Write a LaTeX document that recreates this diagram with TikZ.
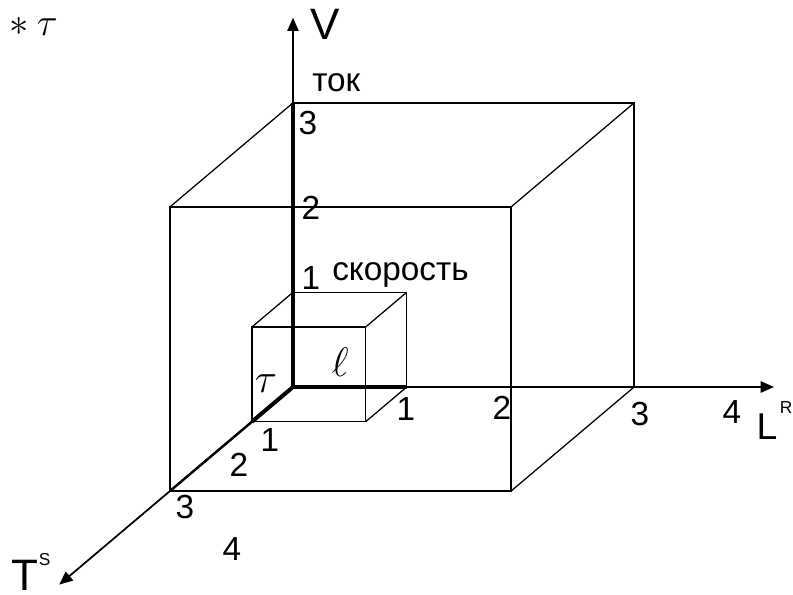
\RequirePackage{fix-cm}
\documentclass[tikz,border=0pt]{standalone}
\usepackage{fontspec}
\setmainfont{Liberation Sans}
\usetikzlibrary{arrows.meta, positioning}

\begin{document}
\begin{tikzpicture}[
    x={(85.28pt,0pt)}, y={(0pt,71.03pt)}, z={(-30.75pt,-26pt)},
    edge/.style={line width=0.95pt},
    ax/.style={-{Triangle[length=10pt,width=8.5pt]}, line width=1.3pt},
    num/.style={inner sep=0pt, font=\fontsize{25}{30}\selectfont},
    axname/.style={inner sep=0pt, font=\fontsize{33}{40}\selectfont},
    supl/.style={inner sep=0pt, font=\fontsize{13}{15}\selectfont},
    mathl/.style={inner sep=0pt, font=\fontsize{31}{36}\selectfont}
]
\useasboundingbox (-219.75pt,-155.25pt) rectangle (375pt,290.25pt);
% axes end points
\coordinate (O) at (0,0,0);
\coordinate (Vend) at (0,3.9,0);
\coordinate (Lend) at (4.23,0,0);
\coordinate (Tend) at (0,0,5.7);
\coordinate (V3) at (0,3,0);
\coordinate (L1) at (1,0,0);
\coordinate (L3) at (3,0,0);
\coordinate (T1) at (0,0,1);
\coordinate (T3) at (0,0,3);
% cubes
\foreach \s in {1,3} {
  \draw[edge] (0,0,0) -- (\s,0,0) -- (\s,\s,0) -- (0,\s,0) -- cycle;
  \draw[edge] (0,0,\s) -- (\s,0,\s) -- (\s,\s,\s) -- (0,\s,\s) -- cycle;
  \foreach \a/\b in {0/0,\s/0,\s/\s,0/\s}
    \draw[edge] (\a,\b,0) -- (\a,\b,\s);
}
% axes
\draw[ax] (O) -- (Vend);
\draw[ax] (O) -- (Lend);
\draw[ax] (O) -- (Tend);
\draw[line width=3pt] (O) -- (V3);
\draw[line width=2pt] (O) -- (L3);
\draw[line width=3.5pt] (O) -- (L1);
\draw[line width=1.8pt] (O) -- (T3);
\draw[line width=3pt] (O) -- (T1);
% axis names
\node[axname] (Vlab) at (24pt,272.25pt) {V};
\node[axname, font=\fontsize{28}{34}\selectfont] (Llab) at (355.5pt,-30pt) {L};
\node[supl, anchor=south west, xshift=1.5pt] (Rsup) at (Llab.north east) {R};
\node[axname] (Tlab) at (-201pt,-141pt) {T};
\node[supl, anchor=west] (Ssup) at (Tlab.north east) {S};
% V ticks
\node[num] (v3) at (11.25pt,198pt) {3};
\node[num] (v2) at (13.5pt,134.25pt) {2};
\node[num] (v1) at (13.5pt,81.75pt) {1};
% L ticks
\node[num] (l1) at (84.75pt,-16.5pt) {1};
\node[num] (l2) at (156.75pt,-15.75pt) {2};
\node[num] (l3) at (260.25pt,-20.25pt) {3};
\node[num] (l4) at (329.25pt,-18.75pt) {4};
% T ticks
\node[num] (t1) at (-17.25pt,-39.75pt) {1};
\node[num] (t2) at (-40.5pt,-58.5pt) {2};
\node[num] (t3) at (-81pt,-90pt) {3};
\node[num] (t4) at (-45.75pt,-121.5pt) {4};
% words
\node[num, anchor=base west] (tok) at (14.25pt,222pt) {ток};
\node[num, anchor=base west] (speed) at (29.25pt,80.25pt) {скорость};
\node[mathl] (ell) at (35.25pt,18.75pt) {$\ell$};
\node[mathl] (tau) at (-20.25pt,2.25pt) {$\tau$};
\node[inner sep=0pt, anchor=base east, font=\fontsize{29}{35}\selectfont] (vt) at (-176.25pt,264pt) {$V*\tau$};
\end{tikzpicture}
\end{document}
